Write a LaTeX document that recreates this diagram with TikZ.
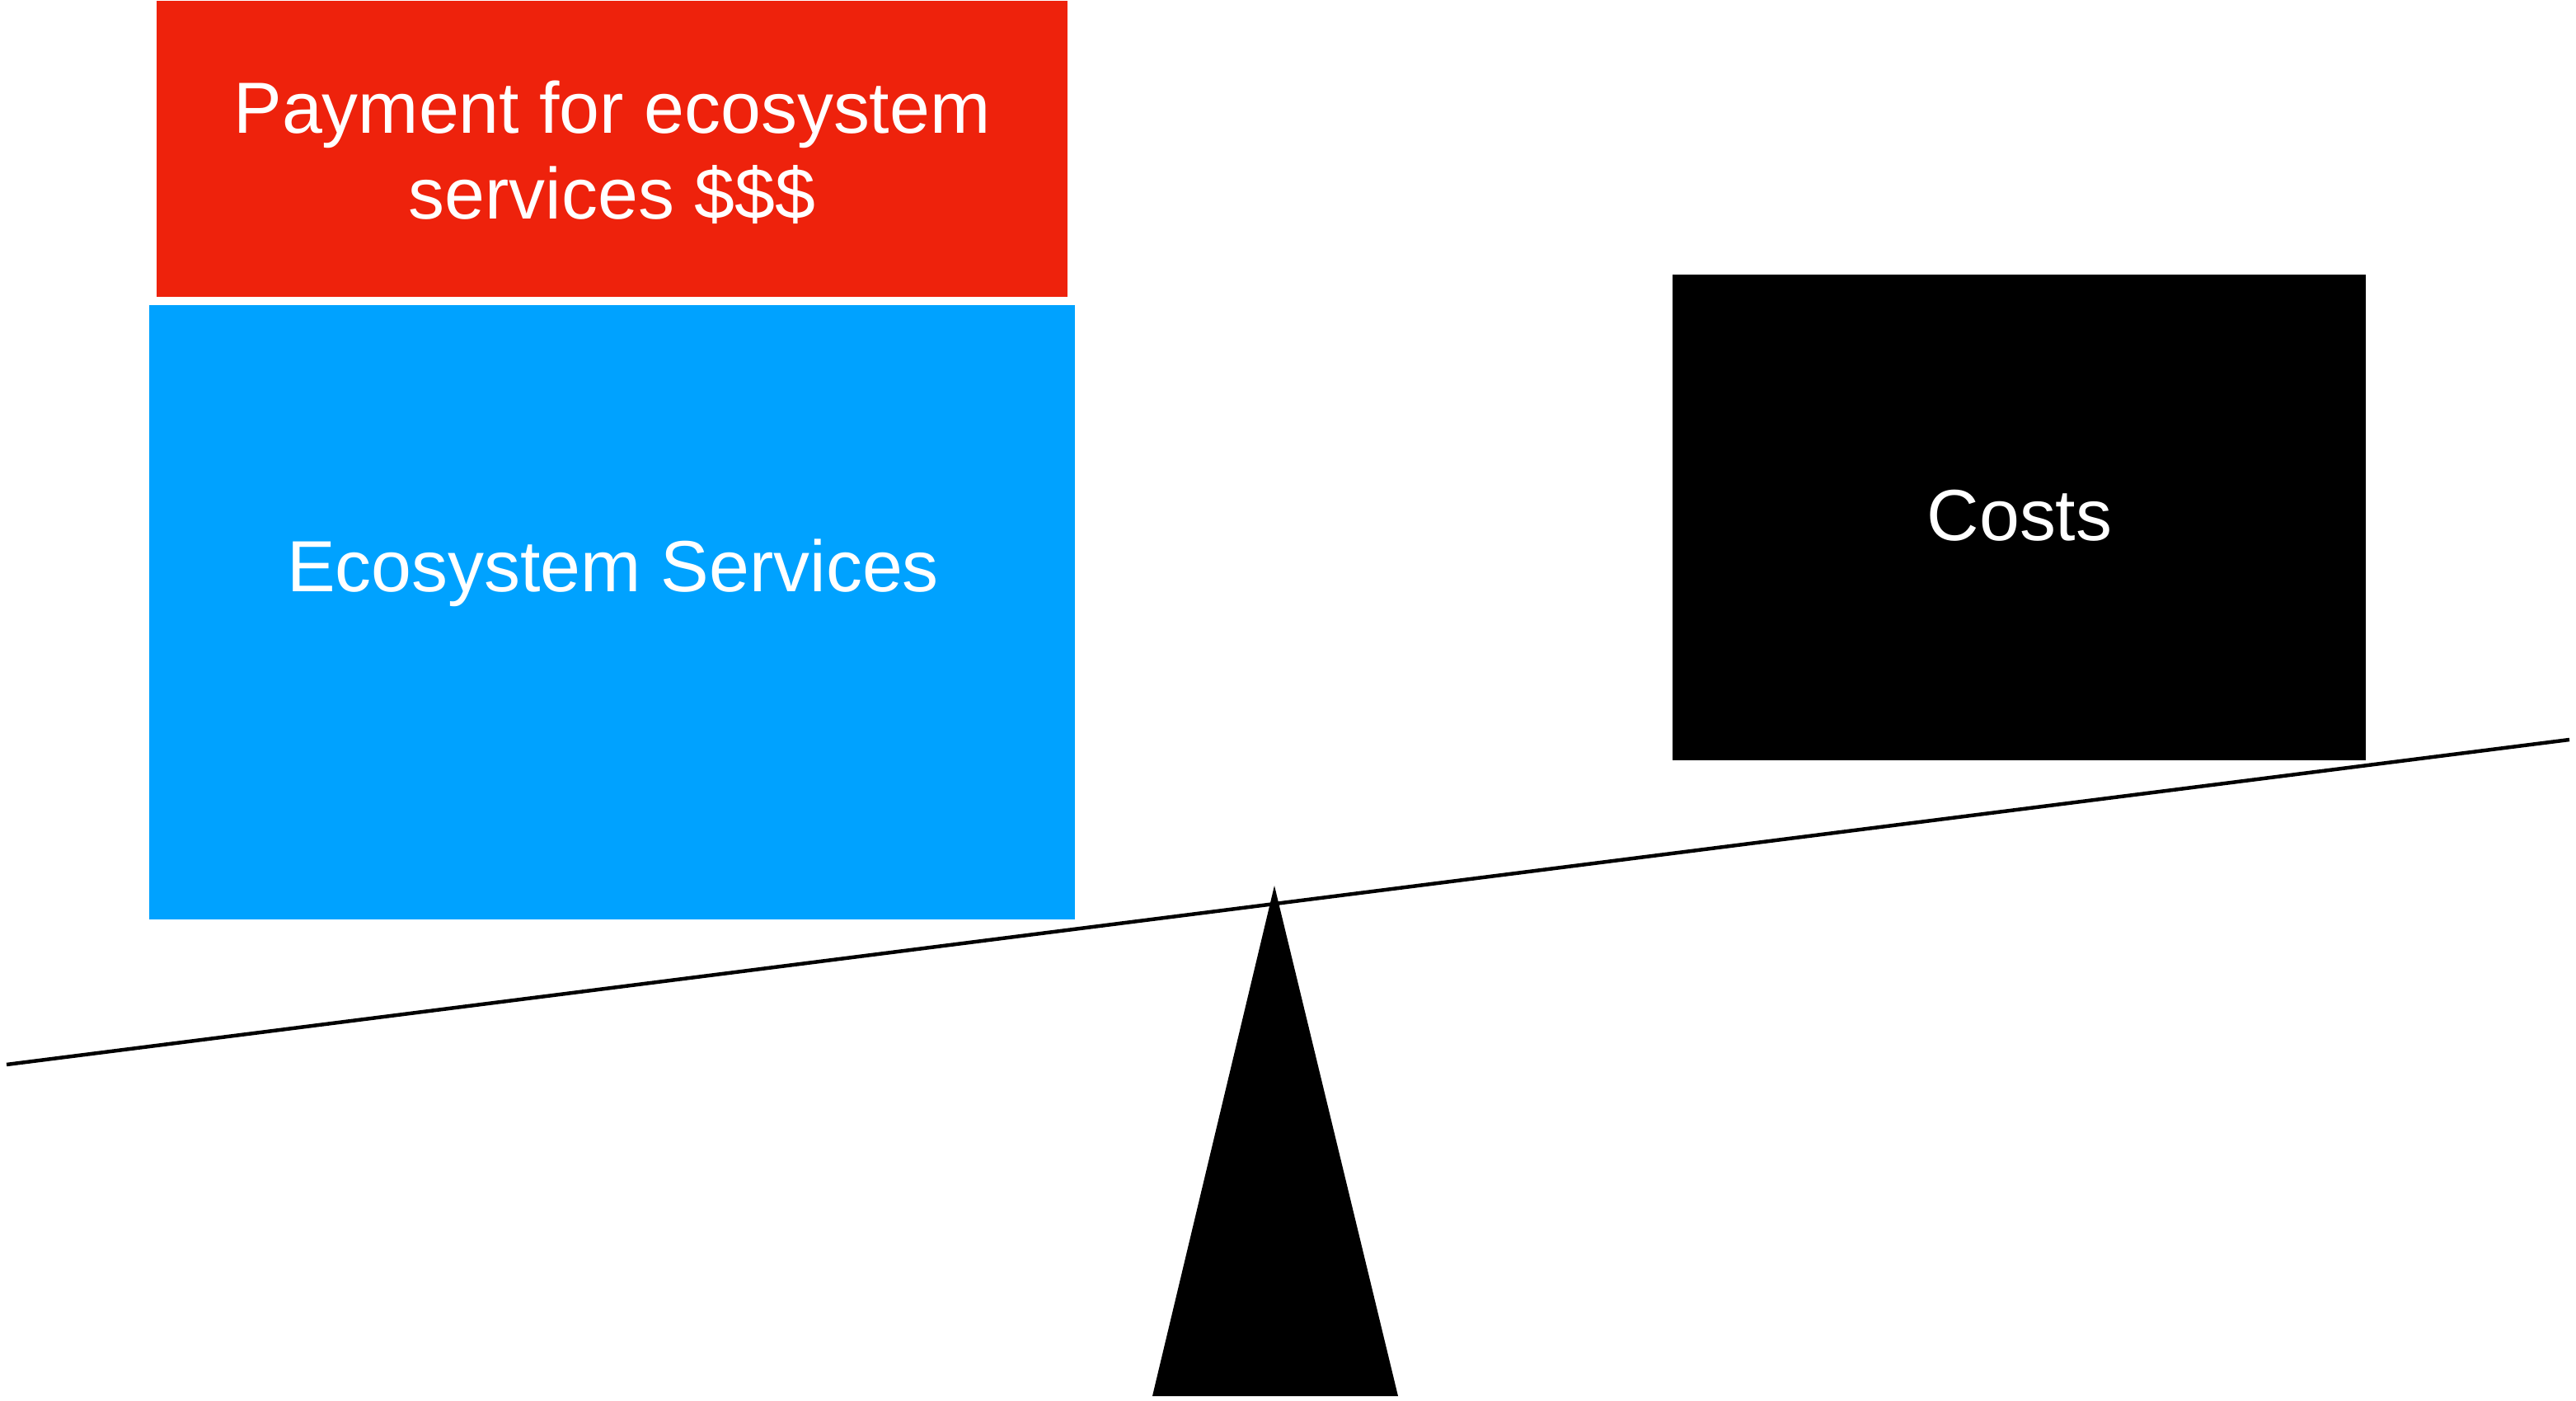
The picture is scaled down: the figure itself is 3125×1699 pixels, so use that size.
\documentclass[tikz,border=0pt]{standalone}
\usepackage{fontspec}
\setmainfont{Liberation Sans}
\definecolor{payred}{HTML}{EE220C}
\definecolor{esblue}{HTML}{00A2FF}
\tikzset{
    block/.style={inner sep=0pt, text=white, align=center,
        font=\fontsize{25}{29.6}\selectfont},
    label/.style={inner sep=0pt, text=white,
        font=\fontsize{25}{29.6}\selectfont},
}
\begin{document}
\begin{tikzpicture}[x=0.1mm,y=-0.1mm]
        \useasboundingbox (0,0) rectangle (3125,1699);
        %% Beam
        \coordinate (beamL) at (8,1291);
        \coordinate (beamR) at (3117,897);
        \draw[line width=0.45mm] (beamL) -- (beamR);
        %% Pivot
        \fill (1546,1074) -- (1398,1693) -- (1696,1693) -- cycle;
        %% Left pan
        \node[block, fill=esblue, minimum width=112.3mm, minimum height=74.5mm]
            (services) at (742.5,742.5) {};
        \node[label, anchor=base] (serviceslabel) at (743.5,718) {Ecosystem Services};
        \node[block, fill=payred, minimum width=110.5mm, minimum height=35.9mm]
            (payment) at (742.5,180.5) {};
        \node[block] (paymentlabel) at (742.5,185) {Payment for ecosystem\\services \$\$\$};
        %% Right pan
        \node[block, fill=black, minimum width=84.1mm, minimum height=58.9mm]
            (costs) at (2449.5,627.5) {};
        \node[label, anchor=base] (costslabel) at (2450,656) {Costs};
    \end{tikzpicture}
\end{document}
